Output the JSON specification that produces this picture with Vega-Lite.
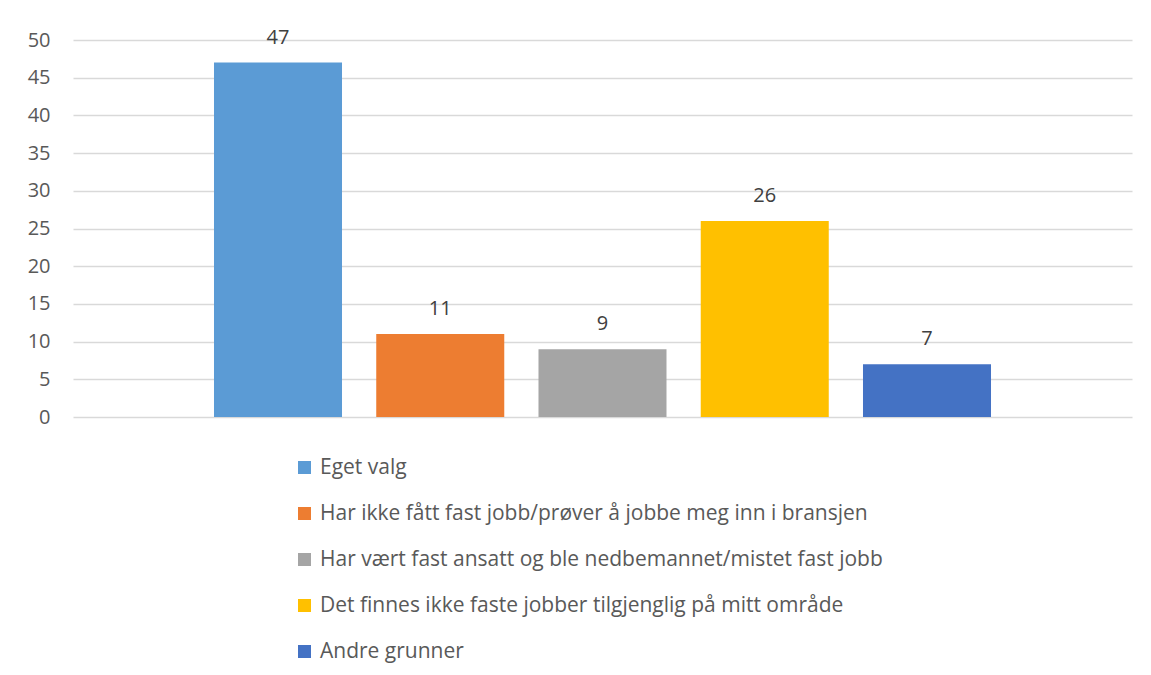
{
  "$schema": "https://vega.github.io/schema/vega-lite/v6.json",
  "autosize": {"type": "none"},
  "width": 1059,
  "height": 377,
  "padding": {"left": 73, "top": 40, "right": 19, "bottom": 258},
  "background": "white",
  "config": {
    "view": {"stroke": null},
    "font": "Open Sans"
  },
  "data": {
    "values": [
      {"grunn": "Eget valg", "antall": 47},
      {"grunn": "Har ikke fått fast jobb/prøver å jobbe meg inn i bransjen", "antall": 11},
      {"grunn": "Har vært fast ansatt og ble nedbemannet/mistet fast jobb", "antall": 9},
      {"grunn": "Det finnes ikke faste jobber tilgjenglig på mitt område", "antall": 26},
      {"grunn": "Andre grunner", "antall": 7}
    ]
  },
  "encoding": {
    "x": {
      "field": "grunn", "type": "nominal", "sort": null,
      "scale": {"paddingInner": 0.211, "paddingOuter": 0.869},
      "axis": null
    },
    "y": {
      "field": "antall", "type": "quantitative",
      "scale": {"domain": [0, 50], "nice": false},
      "axis": {
        "values": [0, 5, 10, 15, 20, 25, 30, 35, 40, 45, 50],
        "title": null, "domain": false, "ticks": false,
        "labelFontSize": 20, "labelColor": "#595959", "labelPadding": 23,
        "labelFont": "Open Sans",
        "gridColor": "#d9d9d9", "gridWidth": 1.5
      }
    }
  },
  "layer": [
    {
      "mark": {"type": "bar"},
      "encoding": {
        "color": {
          "field": "grunn", "type": "nominal", "sort": null,
          "scale": {"range": ["#5B9BD5", "#ED7D31", "#A5A5A5", "#FFC000", "#4472C4"]},
          "legend": {
            "orient": "none", "legendX": 221, "legendY": 417,
            "title": null, "symbolType": "square", "symbolSize": 169,
            "symbolStrokeWidth": 0, "labelFontSize": 21, "labelColor": "#595959",
            "labelFont": "Open Sans", "labelOffset": 5, "rowPadding": 24, "labelLimit": 800
          }
        }
      }
    },
    {
      "mark": {"type": "text", "baseline": "alphabetic", "dy": -19, "fontSize": 20, "color": "#404040", "font": "Open Sans"},
      "encoding": {"text": {"field": "antall", "type": "quantitative"}}
    }
  ]
}
